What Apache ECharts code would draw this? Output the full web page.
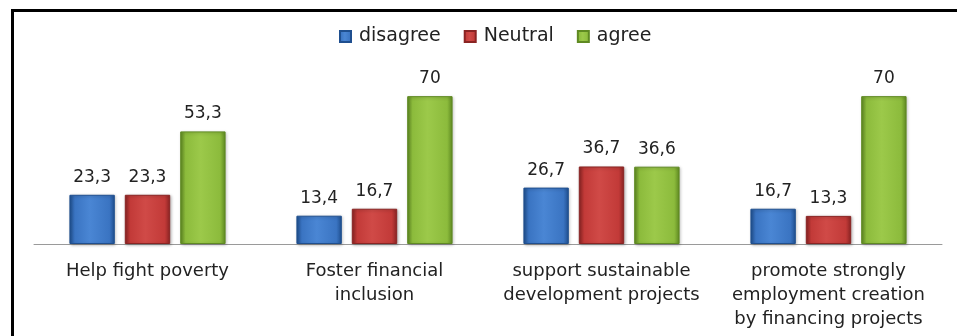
<!DOCTYPE html>
<html>
<head>
<meta charset="utf-8">
<script src="https://cdn.jsdelivr.net/npm/echarts@6/dist/echarts.min.js"></script>
<style>
  html, body { margin: 0; padding: 0; background: #fff; }
  #chart { width: 957px; height: 336px; }
</style>
</head>
<body>
<div id="chart"></div>
<script>
// Survey responses per statement (percent)
const categories = [
  'Help fight poverty',
  'Foster financial\ninclusion',
  'support sustainable\ndevelopment projects',
  'promote strongly\nemployment creation\nby financing projects'
];
const seriesNames = ['disagree', 'Neutral', 'agree'];
const disagree = [23.3, 13.4, 26.7, 16.7];
const neutral = [23.3, 16.7, 36.7, 13.3];
const agree = [53.3, 70, 36.6, 70];

// Beveled look: dark edges, bright centre
function bevel(edge, mid, light) {
  return new echarts.graphic.LinearGradient(0, 0, 1, 0, [
    { offset: 0, color: edge },
    { offset: 0.12, color: mid },
    { offset: 0.45, color: light },
    { offset: 0.88, color: mid },
    { offset: 1, color: edge }
  ]);
}
const palettes = [
  { edge: '#1f4f8f', mid: '#3a74c2', light: '#4a86d4' },
  { edge: '#8a2423', mid: '#c23a38', light: '#d04a47' },
  { edge: '#5f8a22', mid: '#8cbb3c', light: '#9cc94a' }
];

const fmt = p => String(p.value).replace('.', ',');
const textFont = '"DejaVu Sans", "Noto Sans", sans-serif';

const chart = echarts.init(document.getElementById('chart'));
const dataSets = [disagree, neutral, agree];

chart.setOption({
  animation: false,
  backgroundColor: '#fff',
  color: palettes.map(p => p.mid),
  graphic: [{
    type: 'rect',
    left: 10, top: 8,
    shape: { width: 960, height: 340 },
    style: { fill: 'none', stroke: '#000', lineWidth: 3 },
    z: 100
  }],
  legend: {
    data: seriesNames,
    top: 22,
    left: 334,
    itemWidth: 11,
    itemHeight: 11,
    itemGap: 23,
    icon: 'rect',
    textStyle: {
      fontFamily: textFont, fontSize: 19, color: '#222',
      padding: [0, 0, 0, 3]
    }
  },
  grid: { left: 34, right: 15, top: 75, bottom: 92 },
  xAxis: {
    type: 'category',
    data: categories,
    axisLine: { lineStyle: { color: '#9a9a9a', width: 1 } },
    axisTick: { show: false },
    axisLabel: {
      interval: 0,
      margin: 15,
      fontFamily: textFont,
      fontSize: 18,
      lineHeight: 24,
      color: '#222'
    }
  },
  yAxis: {
    type: 'value', min: 0, max: 80,
    show: false,
    splitLine: { show: false }
  },
  series: dataSets.map((d, i) => ({
    name: seriesNames[i],
    type: 'bar',
    data: d,
    barWidth: '20%',
    barGap: '22%',
    itemStyle: {
      color: bevel(palettes[i].edge, palettes[i].mid, palettes[i].light),
      borderColor: palettes[i].edge,
      borderWidth: 1,
      shadowColor: 'rgba(0,0,0,0.25)',
      shadowBlur: 3,
      shadowOffsetX: 1,
      shadowOffsetY: 1
    },
    label: {
      show: true,
      position: 'top',
      distance: 9,
      formatter: fmt,
      fontFamily: textFont,
      fontSize: 17,
      color: '#222'
    }
  }))
});
</script>
</body>
</html>
